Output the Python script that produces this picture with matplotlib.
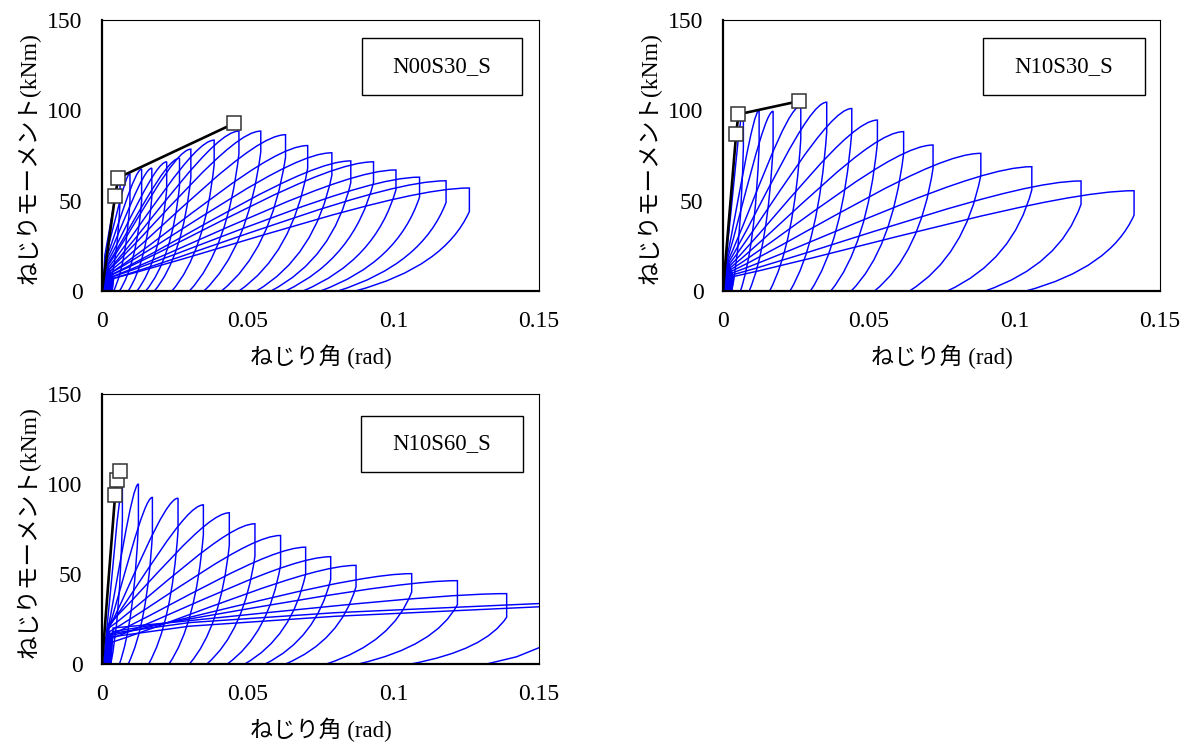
import matplotlib
matplotlib.use("Agg")
import matplotlib.pyplot as plt
from matplotlib.path import Path
from matplotlib.patches import PathPatch, Rectangle

plt.rcParams['font.family'] = ['Liberation Serif', 'Noto Sans CJK JP']

# ---------------- data ----------------
x_ticks = [0, 0.05, 0.1, 0.15]
x_tick_labels = ['0', '0.05', '0.1', '0.15']
y_ticks = [0, 50, 100, 150]
y_tick_labels = ['0', '50', '100', '150']
x_label = 'ねじり角 (rad)'
y_label = 'ねじりモーメント(kNm)'
names = ['N00S30_S', 'N10S30_S', 'N10S60_S']

# Panel 1 : N00S30_S  (one entry per cycle)
p1_peak_x = [0.0062, 0.0096, 0.0136, 0.0171, 0.0222, 0.0266, 0.0305, 0.0385, 0.0470, 0.0545,
             0.0630, 0.0706, 0.0789, 0.0854, 0.0932, 0.1009, 0.1090, 0.1181, 0.1261]
p1_peak_M = [62, 65, 67.5, 68, 71.5, 73.5, 78.5, 83.5, 88.5, 88.5,
             86.5, 80.5, 76.5, 72, 71.5, 67, 63, 61, 57]
p1_drop_M = [50, 50, 50, 52, 56, 58, 63, 70, 76, 77,
             74, 68, 64, 60, 60, 56, 52, 49, 44]
p1_resid_x = [0.002, 0.004, 0.006, 0.009, 0.012, 0.015, 0.018, 0.024, 0.030, 0.035,
              0.041, 0.047, 0.053, 0.058, 0.063, 0.069, 0.075, 0.081, 0.087]
p1_start_x = [0.0010, 0.0012, 0.0014, 0.0016, 0.0018, 0.0020, 0.0020, 0.0022, 0.0024, 0.0026,
              0.0028, 0.0030, 0.0030, 0.0032, 0.0034, 0.0036, 0.0038, 0.0040, 0.0040]
p1_start_M = [20, 19, 18, 17, 16, 15, 14, 13, 12, 12, 11, 10, 10, 9, 9, 8, 8, 7, 7]
p1_skel_x = [0, 0.0045, 0.0056, 0.0454]
p1_skel_M = [0, 52.7, 62.7, 92.8]

# Panel 2 : N10S30_S
p2_peak_x = [0.0070, 0.0124, 0.0172, 0.0267, 0.0356, 0.0442, 0.0530, 0.0620, 0.0721, 0.0885,
             0.1060, 0.1229, 0.1411]
p2_peak_M = [101, 100, 99.5, 102.5, 104.5, 101, 94.6, 88.2, 80.8, 76.2, 68.8, 60.9, 55.5]
p2_drop_M = [80, 80, 80, 84, 88, 88, 82, 76, 68, 64, 56, 48, 42]
p2_resid_x = [0.003, 0.006, 0.009, 0.016, 0.023, 0.030, 0.037, 0.044, 0.052, 0.064,
              0.077, 0.090, 0.104]
p2_start_x = [0.0012, 0.0014, 0.0016, 0.0018, 0.0020, 0.0022, 0.0024, 0.0026, 0.0028, 0.0030,
              0.0032, 0.0034, 0.0036]
p2_start_M = [20, 19, 18, 17, 16, 15, 14, 13, 12, 11, 10, 9, 8]
p2_skel_x = [0, 0.0045, 0.0053, 0.0262]
p2_skel_M = [0, 86.7, 97.8, 105.1]

# Panel 3 : N10S60_S
p3_peak_x = [0.0070, 0.0125, 0.0173, 0.0261, 0.0348, 0.0437, 0.0525, 0.0613, 0.0699, 0.0785,
             0.0872, 0.1063, 0.1220, 0.1389]
p3_peak_M = [98, 100, 92.6, 92.1, 88.4, 84, 77.9, 71.4, 64.9, 59.6, 54.8, 50.2, 46.3, 39.1]
p3_drop_M = [80, 78, 72, 74, 72, 66, 60, 55, 50, 47, 43, 40, 33, 26]
p3_resid_x = [0.003, 0.006, 0.009, 0.016, 0.023, 0.030, 0.036, 0.043, 0.049, 0.056,
              0.063, 0.077, 0.088, 0.106]
p3_start_x = [0.0012, 0.0014, 0.0016, 0.0018, 0.0020, 0.0022, 0.0024, 0.0026, 0.0028, 0.0030,
              0.0032, 0.0034, 0.0036, 0.0038]
p3_start_M = [12, 14, 16, 18, 20, 22, 20, 18, 16, 14, 12, 16, 18, 20]
p3_skel_x = [0, 0.0045, 0.0053, 0.0062]
p3_skel_M = [0, 93.9, 102.4, 107.2]
# cycles running past the right edge
p3_ext1_x = [0.0015, 0.0030, 0.0300, 0.0800, 0.1530]
p3_ext1_M = [-2, 17, 23, 28.5, 33.8]
p3_ext2_x = [0.0015, 0.0030, 0.0300, 0.0800, 0.1530]
p3_ext2_M = [-2, 15, 21, 26.5, 32.0]
p3_unl_x = [0.1530, 0.1423, 0.1320, 0.1250]
p3_unl_M = [11.0, 4.0, 0.0, -2.0]

panels = [
    (p1_peak_x, p1_peak_M, p1_drop_M, p1_resid_x, p1_start_x, p1_start_M, p1_skel_x, p1_skel_M),
    (p2_peak_x, p2_peak_M, p2_drop_M, p2_resid_x, p2_start_x, p2_start_M, p2_skel_x, p2_skel_M),
    (p3_peak_x, p3_peak_M, p3_drop_M, p3_resid_x, p3_start_x, p3_start_M, p3_skel_x, p3_skel_M),
]

BLUE = '#0000FF'
M, L4, C4, C3 = Path.MOVETO, Path.LINETO, Path.CURVE4, Path.CURVE3


def cycle_path(xs, ys, xp, Mp, Md, xr):
    span = xp - xs
    rise = Mp - ys
    back = xp - xr
    verts = [(xs - 0.0008, -3), (xs, ys),
             (xs + 0.33 * span, ys + 0.34 * rise), (xp - 0.2 * span, Mp), (xp, Mp),
             (xp, Md),
             (xp - 0.22 * back, 0.3 * Md), (xr, 0),
             (xr - 0.3 * back, -6)]
    codes = [M, L4, C4, C4, C4, L4, C3, C3, L4]
    return Path(verts, codes)


fig = plt.figure(figsize=(11.82, 7.42), dpi=100)
W, H = 1182, 742
rects = [(102, 20, 291), (723, 20, 291), (102, 394, 664)]
boxes = [(0.595, 0.723, 0.961, 0.934), (0.594, 0.723, 0.966, 0.934), (0.593, 0.712, 0.963, 0.920)]

for i, (left, top, bottom) in enumerate(rects):
    ax = fig.add_axes([left / W, 1 - bottom / H, 437 / W, (bottom - top) / H])
    px, pM, dM, rx, sx, sM, kx, kM = panels[i]
    for j in range(len(px)):
        pp = PathPatch(cycle_path(sx[j], sM[j], px[j], pM[j], dM[j], rx[j]),
                       fill=False, edgecolor=BLUE, lw=1.05, zorder=2)
        ax.add_patch(pp)
    if i == 2:
        ax.plot(p3_ext1_x, p3_ext1_M, color=BLUE, lw=1.05, zorder=2)
        ax.plot(p3_ext2_x, p3_ext2_M, color=BLUE, lw=1.05, zorder=2)
        ax.plot(p3_unl_x, p3_unl_M, color=BLUE, lw=1.05, zorder=2)
    ax.plot(kx, kM, color='black', lw=1.9, zorder=4)
    ax.plot(kx[1:], kM[1:], ls='none', marker='s', ms=10.5, mfc='white',
            mec='#333333', mew=1.1, zorder=5)

    ax.set_xlim(0, 0.15)
    ax.set_ylim(0, 150)
    ax.set_xticks(x_ticks)
    ax.set_xticklabels(x_tick_labels)
    ax.set_yticks(y_ticks)
    ax.set_yticklabels(y_tick_labels)
    ax.tick_params(length=0, labelsize=17)
    ax.tick_params(axis='y', pad=14)
    ax.tick_params(axis='x', pad=14.5)
    for s in ['left', 'bottom']:
        ax.spines[s].set_linewidth(1.6)
    for s in ['top', 'right']:
        ax.spines[s].set_linewidth(0.8)
    ax.set_xlabel(x_label, fontsize=16.5, va='center')
    ax.xaxis.set_label_coords(0.5, -66 / (bottom - top))
    ax.set_ylabel(y_label, fontsize=17, va='center')
    ax.yaxis.set_label_coords(-73 / 437, 0.49)

    x0, y0, x1, y1 = boxes[i]
    ax.add_patch(Rectangle((x0, y0), x1 - x0, y1 - y0, transform=ax.transAxes,
                           facecolor='white', edgecolor='black', lw=1.0, zorder=6))
    ax.text((x0 + x1) / 2, (y0 + y1) / 2, names[i], transform=ax.transAxes,
            ha='center', va='center', fontsize=16.5, zorder=7)

fig.savefig('out.png', dpi=100)
